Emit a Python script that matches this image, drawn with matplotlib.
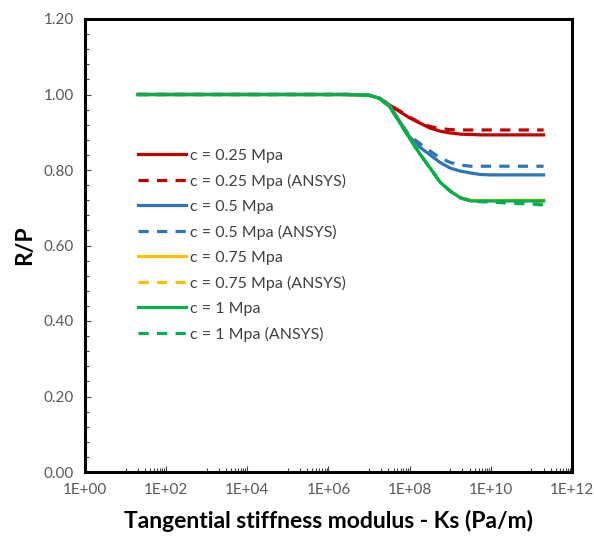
import matplotlib
matplotlib.use("Agg")
import matplotlib.pyplot as plt
from matplotlib.ticker import FixedLocator, NullFormatter, FixedFormatter

plt.rcParams['font.family'] = ['Lato', 'DejaVu Sans']

# Tangential stiffness modulus Ks (Pa/m)
ks = [2e1, 1e2, 1e3, 1e4, 1e5, 1e6, 3e6, 1e7, 1.8e7, 3.2e7, 5.6e7, 1e8,
      1.8e8, 3.2e8, 5.6e8, 1e9, 1.8e9, 3.2e9, 5.6e9, 1e10, 3.2e10, 1e11, 2e11]

c025 = [1.0, 1.0, 1.0, 1.0, 1.0, 1.0, 1.0, 0.998, 0.99, 0.972, 0.955, 0.938,
        0.924, 0.911, 0.903, 0.898, 0.895, 0.894, 0.893, 0.893, 0.893, 0.893, 0.893]
c025_ansys = [1.0, 1.0, 1.0, 1.0, 1.0, 1.0, 1.0, 0.998, 0.99, 0.972, 0.957, 0.94,
              0.925, 0.915, 0.91, 0.907, 0.906, 0.906, 0.906, 0.906, 0.906, 0.906, 0.906]
c05 = [1.0, 1.0, 1.0, 1.0, 1.0, 1.0, 1.0, 0.998, 0.99, 0.97, 0.93, 0.888,
       0.86, 0.84, 0.82, 0.805, 0.797, 0.792, 0.788, 0.787, 0.787, 0.787, 0.787]
c05_ansys = [1.0, 1.0, 1.0, 1.0, 1.0, 1.0, 1.0, 0.998, 0.99, 0.97, 0.93, 0.89,
             0.87, 0.85, 0.832, 0.82, 0.813, 0.81, 0.81, 0.81, 0.81, 0.81, 0.81]
c075 = [1.0, 1.0, 1.0, 1.0, 1.0, 1.0, 1.0, 0.998, 0.99, 0.968, 0.927, 0.884,
        0.842, 0.805, 0.768, 0.744, 0.726, 0.72, 0.719, 0.719, 0.72, 0.72, 0.72]
c075_ansys = [1.0, 1.0, 1.0, 1.0, 1.0, 1.0, 1.0, 0.998, 0.99, 0.968, 0.927, 0.884,
              0.842, 0.805, 0.768, 0.744, 0.726, 0.72, 0.718, 0.717, 0.716, 0.715, 0.715]
c1 = [1.0, 1.0, 1.0, 1.0, 1.0, 1.0, 1.0, 0.998, 0.99, 0.968, 0.927, 0.884,
      0.842, 0.805, 0.768, 0.744, 0.726, 0.718, 0.718, 0.718, 0.718, 0.718, 0.718]
c1_ansys = [1.0, 1.0, 1.0, 1.0, 1.0, 1.0, 1.0, 0.998, 0.99, 0.968, 0.927, 0.884,
            0.842, 0.805, 0.768, 0.744, 0.726, 0.718, 0.716, 0.715, 0.712, 0.71, 0.707]

labels = ["c = 0.25 Mpa", "c = 0.25 Mpa (ANSYS)", "c = 0.5 Mpa", "c = 0.5 Mpa (ANSYS)",
          "c = 0.75 Mpa", "c = 0.75 Mpa (ANSYS)", "c = 1 Mpa", "c = 1 Mpa (ANSYS)"]
xticklabels = ["1E+00", "1E+02", "1E+04", "1E+06", "1E+08", "1E+10", "1E+12"]
yticklabels = ["0.00", "0.20", "0.40", "0.60", "0.80", "1.00", "1.20"]

red, blue, yellow, green = "#C00000", "#2E75B6", "#FFC000", "#00B050"

fig = plt.figure(figsize=(5.94, 5.36), dpi=100)
ax = fig.add_axes([85 / 594, 1 - 472 / 536, (572 - 85) / 594, (472 - 19) / 536])

lw = 2.3
dash = (3.2, 2.6)
ax.plot(ks, c025, color=red, lw=lw, label=labels[0])
ax.plot(ks, c025_ansys, color=red, lw=lw, dashes=dash, label=labels[1])
ax.plot(ks, c05, color=blue, lw=lw, label=labels[2])
ax.plot(ks, c05_ansys, color=blue, lw=lw, dashes=dash, label=labels[3])
ax.plot(ks, c075, color=yellow, lw=lw, label=labels[4])
ax.plot(ks, c075_ansys, color=yellow, lw=lw, dashes=dash, label=labels[5])
ax.plot(ks, c1, color=green, lw=lw, label=labels[6])
ax.plot(ks, c1_ansys, color=green, lw=lw, dashes=dash, label=labels[7])

ax.set_xscale('log')
ax.set_xlim(1, 1e12)
ax.set_ylim(0, 1.2)

major_x = [1e0, 1e2, 1e4, 1e6, 1e8, 1e10, 1e12]
ax.xaxis.set_major_locator(FixedLocator(major_x))
ax.xaxis.set_major_formatter(FixedFormatter(xticklabels))
minor_x = [m * 10 * b for b in [1e0, 1e2, 1e4, 1e6, 1e8, 1e10] for m in range(1, 10)]
ax.xaxis.set_minor_locator(FixedLocator(minor_x))
ax.xaxis.set_minor_formatter(NullFormatter())

major_y = [0.0, 0.2, 0.4, 0.6, 0.8, 1.0, 1.2]
ax.yaxis.set_major_locator(FixedLocator(major_y))
ax.yaxis.set_major_formatter(FixedFormatter(yticklabels))
ax.yaxis.set_minor_locator(FixedLocator([i * 0.04 for i in range(31)]))

ax.tick_params(axis='both', which='both', direction='in', color='#404040', width=0.8)
ax.tick_params(axis='both', which='major', length=4, labelsize=11, labelcolor='#595959', pad=8)
ax.tick_params(axis='both', which='minor', length=3)

for s in ax.spines.values():
    s.set_linewidth(2.2)
    s.set_color('black')

ax.set_xlabel("Tangential stiffness modulus - Ks (Pa/m)", fontsize=16.5, fontweight='bold', labelpad=9)
ax.set_ylabel("R/P", fontsize=16.5, fontweight='bold', labelpad=6)

leg = ax.legend(loc='upper left', bbox_to_anchor=(0.095, 0.728), frameon=False,
                fontsize=11.5, handlelength=3.0, handletextpad=0.3,
                labelspacing=0.68, borderaxespad=0)
for t in leg.get_texts():
    t.set_color('#404040')

fig.savefig("out.png", dpi=100)
